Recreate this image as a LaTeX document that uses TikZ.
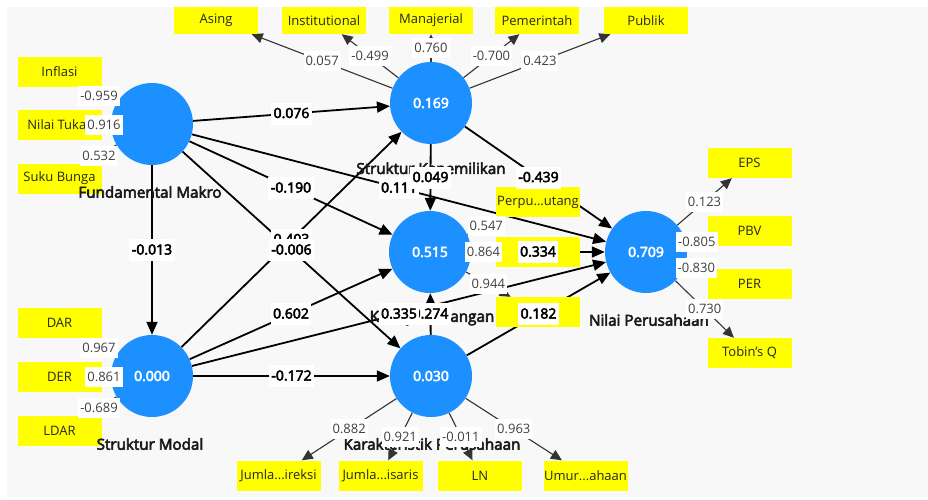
\documentclass[tikz,border=0pt]{standalone}
\usepackage{fontspec}
\setmainfont{Open Sans}[AutoFakeBold=3.6]
\usetikzlibrary{arrows.meta}
\pgfdeclarelayer{bglayer}
\pgfdeclarelayer{edgelayer}
\pgfdeclarelayer{titlelayer}
\pgfdeclarelayer{fglayer}
\pgfsetlayers{bglayer,edgelayer,main,titlelayer,fglayer}
\definecolor{lvblue}{RGB}{28,144,255}
\definecolor{canvas}{RGB}{248,248,248}
\definecolor{olgray}{RGB}{64,64,64}
\definecolor{boxyellow}{RGB}{255,255,0}
\begin{document}
\begin{tikzpicture}[x=1pt,y=-1pt,
 lv/.style={circle, fill=lvblue, minimum size=82pt, inner sep=0pt, text=white, font=\bfseries\fontsize{14}{16}\selectfont},
 ind/.style={rectangle, fill=boxyellow, minimum width=84pt, minimum height=30pt, inner sep=0pt, text=black!85, font=\fontsize{13}{15}\selectfont},
 indtop/.style={ind, minimum height=27pt},
 ttl/.style={font=\bfseries\fontsize{15.2}{17}\selectfont, text=black!90},
 se/.style={draw=black, line width=1.8pt, -{Triangle[length=13pt,width=11pt]}},
 oe/.style={draw=black!80, line width=1.1pt, -{Triangle[length=11pt,width=10pt]}},
 pl/.style={fill=white, text=black, font=\bfseries\fontsize{14}{16}\selectfont, inner xsep=2.5pt, inner ysep=0pt, text height=15.5pt, text depth=6.5pt},
 ol/.style={fill=white, text=olgray, font=\fontsize{13}{15}\selectfont, inner xsep=2pt, inner ysep=0pt, text height=14.5pt, text depth=5.5pt}
]
\useasboundingbox (0,0) rectangle (928,499);
\begin{pgfonlayer}{bglayer}
\fill[canvas] (7,7) rectangle (928,497);
\end{pgfonlayer}

% latent variables
\node[lv] (FM) at (152,124) {};
\node[lv] (SK) at (431,103) {0.169};
\node[lv] (KK) at (430,252) {0.515};
\node[lv] (KP) at (431,376) {0.030};
\node[lv] (SM) at (152,376) {0.000};
\node[lv] (NP) at (646,252) {0.709};

% titles
\begin{pgfonlayer}{titlelayer}
\node[ttl] (tFM) at (150,192) {Fundamental Makro};
\node[ttl] (tSK) at (431,170) {Struktur Kepemilikan};
\node[ttl] (tKK) at (432,318) {Kinerja Keuangan};
\node[ttl] (tKP) at (432,444) {Karakteristik Perusahaan};
\node[ttl] (tSM) at (150,444) {Struktur Modal};
\node[ttl] (tNP) at (649,320) {Nilai Perusahaan};
\end{pgfonlayer}

% indicators
\node[ind] (inf) at (59.5,71.5) {Inflasi};
\node[ind] (nt) at (59.5,125) {Nilai Tukar};
\node[ind] (sb) at (59.5,178.5) {Suku Bunga};
\node[ind] (dar) at (59.5,322.5) {DAR};
\node[ind] (der) at (59.5,377) {DER};
\node[ind] (ldar) at (59.5,430.5) {LDAR};
\node[indtop] (asing) at (216,20.5) {Asing};
\node[indtop] (inst) at (324,20.5) {Institutional};
\node[indtop] (man) at (431,20.5) {Manajerial};
\node[indtop] (pem) at (537,20.5) {Pemerintah};
\node[indtop] (pub) at (646,20.5) {Publik};
\node[ind] (eps) at (749.5,163) {EPS};
\node[ind] (pbv) at (749.5,231) {PBV};
\node[ind] (per) at (749.5,284) {PER};
\node[ind] (tq) at (749.5,353) {Tobin’s Q};
\node[ind] (jd) at (278.5,475.5) {Jumla...ireksi};
\node[ind] (jk) at (380.5,475.5) {Jumla...isaris};
\node[ind] (ln) at (480,475.5) {LN};
\node[ind] (um) at (585.5,475.5) {Umur...ahaan};
\node[ind] (pp) at (538,202) {Perpu...utang};
\node[ind] (k2) at (538,252) {};
\node[ind] (k3) at (538,312) {};

% edges
\begin{pgfonlayer}{edgelayer}
\draw[se] (FM) -- (SK);
\draw[se] (FM) -- (KK);
\draw[se] (FM) -- (NP);
\draw[se] (FM) -- (KP);
\draw[se] (FM) -- (SM);
\draw[se] (SM) -- (SK);
\draw[se] (SM) -- (KK);
\draw[se] (SM) -- (NP);
\draw[se] (SM) -- (KP);
\draw[se] (SK) -- (KK);
\draw[se] (SK) -- (NP);
\draw[se] (KK) -- (NP);
\draw[se] (KP) -- (KK);
\draw[se] (KP) -- (NP);
\foreach \b in {inf,nt,sb} \draw[oe] (FM) -- (\b);
\foreach \b in {dar,der,ldar} \draw[oe] (SM) -- (\b);
\foreach \b in {asing,inst,man,pem,pub} \draw[oe] (SK) -- (\b);
\foreach \b in {eps,pbv,per,tq} \draw[oe] (NP) -- (\b);
\foreach \b in {jd,jk,ln,um} \draw[oe] (KP) -- (\b);
\foreach \b in {pp,k2,k3} \draw[oe] (KK) -- (\b);
\end{pgfonlayer}

% labels
\begin{pgfonlayer}{fglayer}
% outer loadings
\node[ol] (lin) at (99,96) {-0.959};
\node[ol] (lnt) at (104,125) {0.916};
\node[ol] (lsb) at (99,156) {0.532};
\node[ol] (ldar) at (99,348) {0.967};
\node[ol] (lder) at (104,377) {0.861};
\node[ol] (lldar) at (99,408) {-0.689};
\path (SK) -- node[ol] {0.057} (asing);
\path (SK) -- node[ol] {-0.499} (inst);
\path (SK) -- node[ol] {0.760} (man);
\path (SK) -- node[ol] {-0.700} (pem);
\path (SK) -- node[ol] {0.423} (pub);
\path (NP) -- node[ol] {0.123} (eps);
\path (NP) -- node[ol] {-0.805} (pbv);
\path (NP) -- node[ol] {-0.830} (per);
\path (NP) -- node[ol] {0.730} (tq);
\path (KP) -- node[ol] {0.882} (jd);
\path (KP) -- node[ol] {0.921} (jk);
\path (KP) -- node[ol] {-0.011} (ln);
\path (KP) -- node[ol] {0.963} (um);
\path (KK) -- node[ol] {0.547} (pp);
\path (KK) -- node[ol] {0.864} (k2);
\path (KK) -- node[ol] {0.944} (k3);
% path coefficients
\path (FM) -- node[pl] {0.076} (SK);
\path (FM) -- node[pl] {-0.190} (KK);
\path (FM) -- node[pl] {-0.013} (SM);
\path (SM) -- node[pl] {0.403} (SK);
\path (FM) -- node[pl] {-0.006} (KP);
\path (FM) -- node[pl] {0.111} (NP);
\path (SK) -- node[pl] {0.049} (KK);
\path (SK) -- node[pl] {-0.439} (NP);
\path (SM) -- node[pl] {0.602} (KK);
\path (KP) -- node[pl] {0.274} (KK);
\path (SM) -- node[pl] {0.335} (NP);
\path (SM) -- node[pl] {-0.172} (KP);
\path (KK) -- node[pl] {0.334} (NP);
\path (KP) -- node[pl] {0.182} (NP);
\end{pgfonlayer}
\end{tikzpicture}
\end{document}
